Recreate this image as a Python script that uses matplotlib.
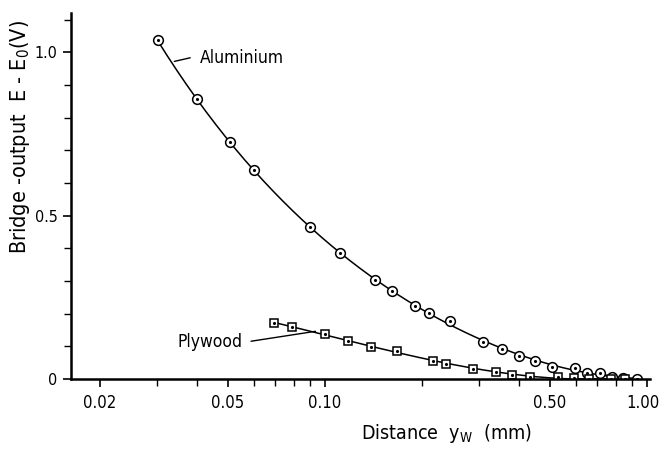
import numpy as np
import matplotlib
matplotlib.use("Agg")
import matplotlib.pyplot as plt
from matplotlib import ticker
from matplotlib.transforms import ScaledTranslation

plt.rcParams['font.family'] = ['DejaVu Sans']
plt.rcParams['font.stretch'] = 'condensed'
plt.rcParams['mathtext.fontset'] = 'custom'
plt.rcParams['mathtext.rm'] = 'DejaVu Sans:stretch=condensed'

# Aluminium: distance (mm) vs bridge output (V)
alu_x = [0.0302, 0.040, 0.0508, 0.060, 0.090, 0.111, 0.143, 0.161, 0.191, 0.211,
         0.245, 0.309, 0.355, 0.400, 0.450, 0.507, 0.597, 0.653, 0.715, 0.780,
         0.841, 0.933]
alu_y = [1.036, 0.856, 0.724, 0.641, 0.464, 0.384, 0.304, 0.269, 0.224, 0.203,
         0.176, 0.113, 0.092, 0.071, 0.056, 0.037, 0.033, 0.018, 0.018, 0.006,
         0.003, 0.0]

# Plywood
ply_x = [0.0694, 0.079, 0.100, 0.118, 0.139, 0.167, 0.216, 0.237, 0.2875, 0.340,
         0.380, 0.433, 0.528, 0.593, 0.659, 0.771, 0.854]
ply_y = [0.171, 0.160, 0.138, 0.117, 0.098, 0.085, 0.055, 0.047, 0.031, 0.021,
         0.013, 0.007, 0.006, 0.002, 0.0, 0.0, 0.0]

fig = plt.figure(figsize=(6.6, 4.5), dpi=100)
ax = fig.add_axes([0.108, 0.158, 0.8765, 0.813])


def smooth(xs, ys, deg):
    lx = np.log10(xs)
    c = np.polyfit(lx, ys, deg)
    xx = np.linspace(lx.min(), lx.max(), 200)
    return 10 ** xx, np.clip(np.polyval(c, xx), 0, None)


sx, sy = smooth(np.array(alu_x), np.array(alu_y), 4)
ax.plot(sx, sy, color='black', lw=1.1)
sx, sy = smooth(np.array(ply_x), np.array(ply_y), 3)
ax.plot(sx, sy, color='black', lw=1.1)

ax.plot(alu_x, alu_y, 'o', ms=7, mfc='white', mec='black', mew=1.1)
ax.plot(alu_x, alu_y, '.', ms=2.5, color='black')
ax.plot(ply_x, ply_y, 's', ms=5.6, mfc='white', mec='black', mew=1.1)
ax.plot(ply_x, ply_y, '.', ms=2.5, color='black')

ax.set_xscale('log')
ax.set_xlim(0.0163, 1.02)
ax.set_ylim(0, 1.12)

ax.xaxis.set_major_locator(ticker.FixedLocator([0.02, 0.05, 0.1, 0.5, 1.0]))
ax.xaxis.set_major_formatter(ticker.FixedFormatter(['0.02', '0.05', '0.10', '0.50', '1.00']))
ax.xaxis.set_minor_locator(ticker.LogLocator(base=10, subs=np.arange(2, 10) * 1.0))
ax.xaxis.set_minor_formatter(ticker.NullFormatter())
ax.yaxis.set_major_locator(ticker.FixedLocator([0, 0.5, 1.0]))
ax.yaxis.set_major_formatter(ticker.FixedFormatter(['0', '0.5', '1.0']))
ax.yaxis.set_minor_locator(ticker.MultipleLocator(0.1))

ax.spines['top'].set_visible(False)
ax.spines['right'].set_visible(False)
ax.spines['left'].set_linewidth(1.8)
ax.spines['bottom'].set_linewidth(1.8)
ax.tick_params(which='major', length=6, width=1.2)
ax.tick_params(which='minor', length=5, width=1.0)
ax.tick_params(axis='x', which='major', labelsize=12, pad=5)
ax.tick_params(axis='y', which='major', labelsize=11.5, pad=4)

# nudge the last x label so it stays inside the figure
last = ax.get_xticklabels()[-1]
last.set_transform(last.get_transform() + ScaledTranslation(-3 / 72, 0, fig.dpi_scale_trans))

ax.set_ylabel(r'Bridge -output  E - E$_\mathrm{0}$(V)', fontsize=15.5)
ax.yaxis.label.set_va('center')
ax.yaxis.set_label_coords(-0.088, 0.66)
ax.set_xlabel(r'Distance  y$_\mathrm{W}$  (mm)', fontsize=14)
ax.xaxis.label.set_va('baseline')
ax.xaxis.set_label_coords(0.649, -0.164)

ax.annotate('', xy=(0.0334, 0.970), xytext=(0.0389, 0.985),
            arrowprops=dict(arrowstyle='-', color='black', lw=1))
ax.text(0.041, 0.982, 'Aluminium', fontsize=12.5, va='center', ha='left')
ax.annotate('', xy=(0.0953, 0.147), xytext=(0.0578, 0.114),
            arrowprops=dict(arrowstyle='-', color='black', lw=1))
ax.text(0.0556, 0.114, 'Plywood', fontsize=12.5, va='center', ha='right')

fig.savefig('out.png', dpi=100)
